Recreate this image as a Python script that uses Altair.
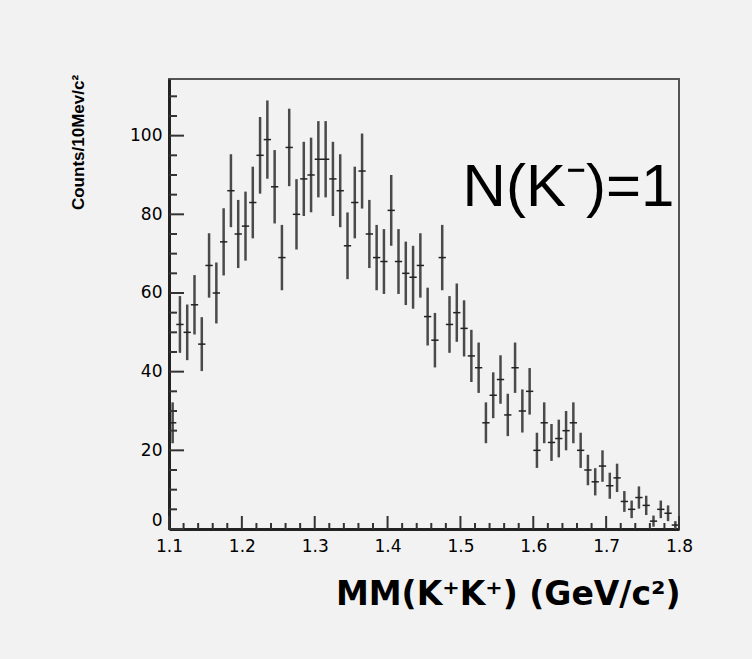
import math
import altair as alt
import pandas as pd

# ---- data (10 MeV bins, 1.10 - 1.80 GeV/c^2) ----
bin_centers = [
    1.105, 1.115, 1.125, 1.135, 1.145, 1.155, 1.165, 1.175, 1.185, 1.195,
    1.205, 1.215, 1.225, 1.235, 1.245, 1.255, 1.265, 1.275, 1.285, 1.295,
    1.305, 1.315, 1.325, 1.335, 1.345, 1.355, 1.365, 1.375, 1.385, 1.395,
    1.405, 1.415, 1.425, 1.435, 1.445, 1.455, 1.465, 1.475, 1.485, 1.495,
    1.505, 1.515, 1.525, 1.535, 1.545, 1.555, 1.565, 1.575, 1.585, 1.595,
    1.605, 1.615, 1.625, 1.635, 1.645, 1.655, 1.665, 1.675, 1.685, 1.695,
    1.705, 1.715, 1.725, 1.735, 1.745, 1.755, 1.765, 1.775, 1.785, 1.795,
]
counts = [
    27, 52, 50, 57, 47, 67, 60, 73, 86, 75,
    77, 83, 95, 99, 87, 69, 97, 80, 89, 90,
    94, 94, 89, 86, 72, 83, 91, 75, 69, 68,
    81, 68, 65, 64, 67, 54, 48, 69, 52, 55,
    51, 44, 41, 27, 34, 38, 29, 41, 30, 35,
    20, 27, 22, 23, 25, 27, 20, 15, 12, 16,
    11, 13, 7, 5, 8, 6, 2, 5, 4, 1,
]
bin_width = 0.01

x_labels = [1.1, 1.2, 1.3, 1.4, 1.5, 1.6, 1.7, 1.8]
x_minor = [1.12, 1.14, 1.16, 1.18, 1.22, 1.24, 1.26, 1.28, 1.32, 1.34, 1.36, 1.38,
           1.42, 1.44, 1.46, 1.48, 1.52, 1.54, 1.56, 1.58, 1.62, 1.64, 1.66, 1.68,
           1.72, 1.74, 1.76, 1.78]
y_labels = [0, 20, 40, 60, 80, 100]
y_minor = [5, 10, 15, 25, 30, 35, 45, 50, 55, 65, 70, 75, 85, 90, 95, 105, 110]

annotation = "N(K\u207b)=1"
x_title = "MM(K\u207aK\u207a) (GeV/c\u00b2)"
y_title = "Counts/10Mev/c\u00b2"

# ---- tables ----
df = pd.DataFrame({"m": bin_centers, "n": counts})
df["err"] = [math.sqrt(v) for v in counts]
df["lo"] = df["n"] - df["err"]
df["hi"] = df["n"] + df["err"]
df["xl"] = df["m"] - bin_width / 2
df["xr"] = df["m"] + bin_width / 2

W, H = 510, 450
xscale = alt.Scale(domain=[1.1, 1.8], nice=False, zero=False)
yscale = alt.Scale(domain=[0, 114.4], nice=False)

BG = "#f2f2f2"

vbars = alt.Chart(df).mark_rule(color="#4a4a4a", strokeWidth=2.5).encode(
    x=alt.X("m:Q", scale=xscale, axis=alt.Axis(
        values=x_labels, format=".1f", ticks=False, grid=False,
        domainColor="#222", domainWidth=3,
        labelFont="DejaVu Sans", labelFontSize=17, labelColor="#000",
        labelPadding=9, labelFlush=False,
        title=x_title, titleFont="DejaVu Sans", titleFontSize=33,
        titleFontWeight="bold", titleColor="#000",
        titleX=511, titleY=75, titleAlign="right", titleBaseline="alphabetic")),
    y=alt.Y("lo:Q", scale=yscale, axis=alt.Axis(
        values=y_labels, ticks=False, grid=False,
        domainColor="#222", domainWidth=3,
        labelFont="DejaVu Sans", labelFontSize=17, labelColor="#000",
        labelPadding=7, labelFlush=True,
        title=y_title, titleFont="Liberation Sans", titleFontSize=17,
        titleFontWeight="bold", titleColor="#000", titleAngle=270,
        titleX=-91, titleY=63, titleAlign="center", titleBaseline="middle")),
    y2="hi:Q",
)

hbars = alt.Chart(df).mark_rule(color="#222", strokeWidth=1.5).encode(
    x=alt.X("xl:Q", scale=xscale),
    x2="xr:Q",
    y=alt.Y("n:Q", scale=yscale),
)

def ytick(vals, length):
    return alt.Chart(pd.DataFrame({"v": vals})).mark_rule(color="#333", strokeWidth=2).encode(
        y=alt.Y("v:Q", scale=yscale),
        x=alt.value(0), x2=alt.value(length),
    )

def xtick(vals, length):
    return alt.Chart(pd.DataFrame({"v": vals})).mark_rule(color="#333", strokeWidth=2).encode(
        x=alt.X("v:Q", scale=xscale),
        y=alt.value(H), y2=alt.value(H - length),
    )

label = alt.Chart(pd.DataFrame({"x": [1.503], "y": [82], "t": [annotation]})).mark_text(
    font="Liberation Sans", fontSize=60, color="#000", align="left", baseline="alphabetic"
).encode(
    x=alt.X("x:Q", scale=xscale),
    y=alt.Y("y:Q", scale=yscale),
    text="t:N",
)

chart = alt.layer(
    vbars, hbars,
    ytick(y_labels, 15), ytick(y_minor, 8),
    xtick(x_labels, 13), xtick(x_minor, 6),
    label,
).properties(
    width=W, height=H,
    autosize=alt.AutoSizeParams(type="none"),
    padding={"left": 169, "top": 79, "right": 752 - 169 - W, "bottom": 659 - 79 - H},
    background=BG,
).configure_view(
    stroke="#555", strokeWidth=2, fill=BG,
)

chart.save("out.html", embed_options={"renderer": "svg", "actions": False})
